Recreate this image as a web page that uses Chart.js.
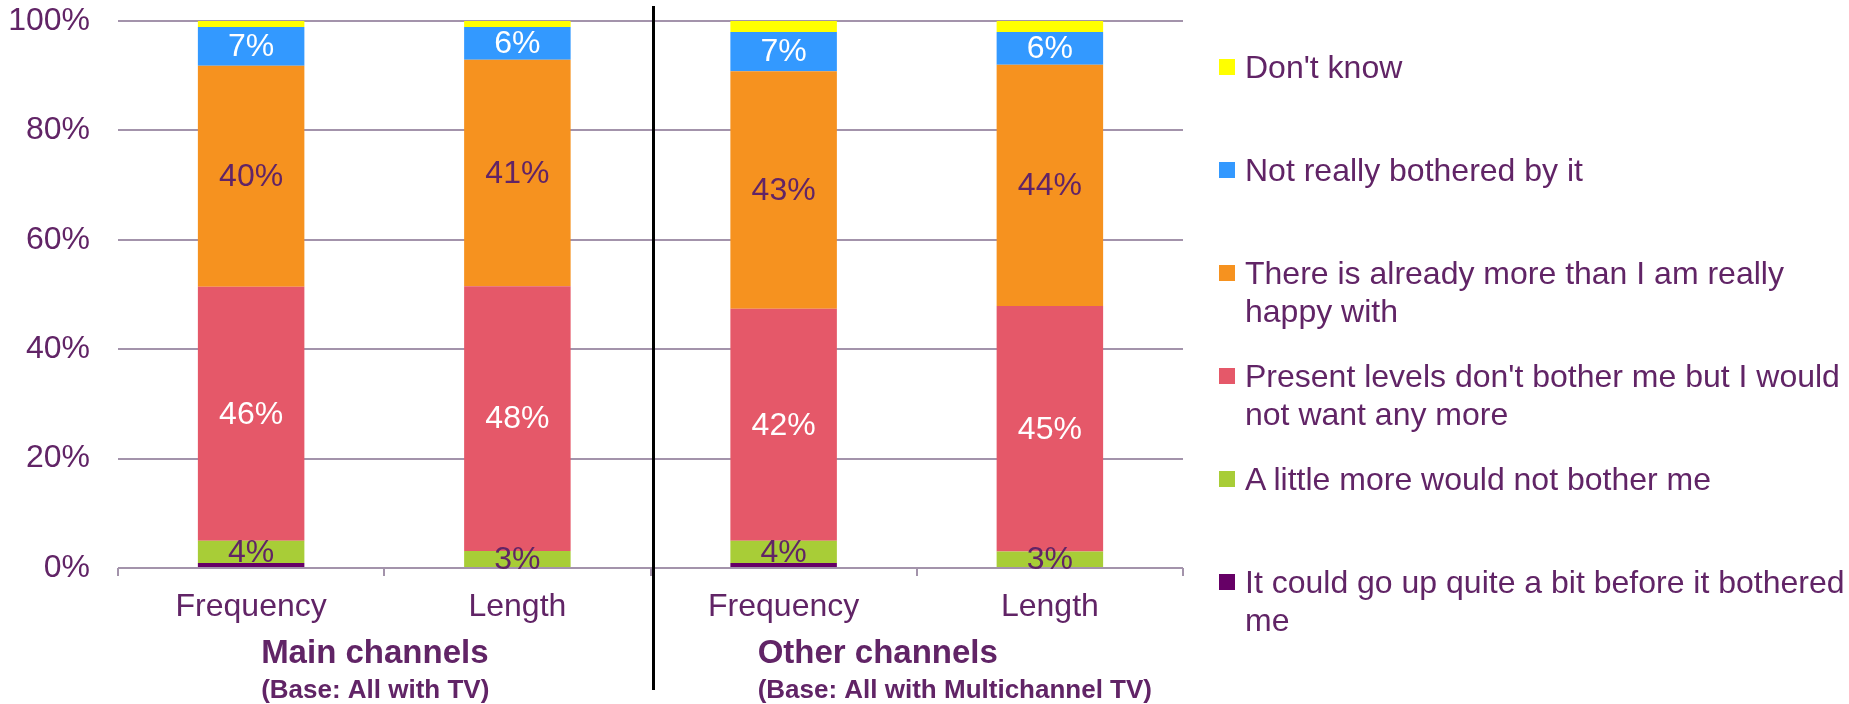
<!DOCTYPE html>
<html>
<head>
<meta charset="utf-8">
<script src="https://cdn.jsdelivr.net/npm/chart.js@4/dist/chart.umd.min.js"></script>
<style>
  body { margin: 0; background: #fff; }
  #wrap { position: relative; width: 1849px; height: 704px; }
  #legend { position: absolute; left: 1219px; top: 0; width: 630px; font-family: Arial, "Liberation Sans", sans-serif; font-size: 32px; color: #612466; }
  .item { position: absolute; left: 0; width: 626px; line-height: 38px; padding-left: 26px; box-sizing: border-box; }
  .box { position: absolute; left: 0; top: 11px; width: 16px; height: 16px; }
</style>
</head>
<body>
<div id="wrap">
  <canvas id="myChart" width="1849" height="704"></canvas>
  <div id="legend"></div>
</div>
<script>
var categories = ["Frequency", "Length", "Frequency", "Length"];
var groupNames = ["Main channels", "Other channels"];
var groupBases = ["(Base: All with TV)", "(Base: All with Multichannel TV)"];

// bottom of the stack first
var couldGoUp = [0.9, 0, 0.9, 0];
var littleMore = [4.1, 3.1, 4.1, 3.0];
var presentLevels = [46.4, 48.4, 42.4, 44.9];
var alreadyMore = [40.4, 41.4, 43.4, 44.1];
var notBothered = [7.1, 6.0, 7.2, 6.0];
var dontKnow = [1.1, 1.1, 2.0, 2.0];

var yTicks = [0, 20, 40, 60, 80, 100];

var purple = "#612466";
var gridColor = "#a393ab";

Chart.defaults.font.family = 'Arial, "Liberation Sans", sans-serif';

var datasets = [
    { label: "It could go up quite a bit before it bothered me", data: couldGoUp, backgroundColor: "#660066", labelColor: null },
    { label: "A little more would not bother me", data: littleMore, backgroundColor: "#a8cd37", labelColor: purple },
    { label: "Present levels don't bother me but I would not want any more", data: presentLevels, backgroundColor: "#e55869", labelColor: "#ffffff" },
    { label: "There is already more than I am really happy with", data: alreadyMore, backgroundColor: "#f6921f", labelColor: purple },
    { label: "Not really bothered by it", data: notBothered, backgroundColor: "#3399ff", labelColor: "#ffffff" },
    { label: "Don't know", data: dontKnow, backgroundColor: "#ffff00", labelColor: null }
];

// value labels inside the segments
var segmentLabels = {
    id: "segmentLabels",
    afterDatasetsDraw: function(chart) {
        var ctx = chart.ctx;
        ctx.save();
        ctx.font = '32px Arial, "Liberation Sans", sans-serif';
        ctx.textAlign = "center";
        ctx.textBaseline = "middle";
        chart.data.datasets.forEach(function(ds, i) {
            if (!ds.labelColor) return;
            chart.getDatasetMeta(i).data.forEach(function(bar, j) {
                if (!ds.data[j]) return;
                ctx.fillStyle = ds.labelColor;
                ctx.fillText(Math.round(ds.data[j]) + "%", bar.x, (bar.y + bar.base) / 2 + 1);
            });
        });
        ctx.restore();
    }
};

// group titles under the axis and the divider line
var groupTitles = {
    id: "groupTitles",
    afterDraw: function(chart) {
        var ctx = chart.ctx;
        var x = chart.scales.x;
        var half = (x.getPixelForValue(1) - x.getPixelForValue(0)) / 2;
        var offsets = [10, -26];
        ctx.save();
        ctx.fillStyle = purple;
        ctx.textAlign = "left";
        ctx.textBaseline = "alphabetic";
        groupNames.forEach(function(name, g) {
            var left = x.getPixelForValue(g * 2) + offsets[g];
            ctx.font = 'bold 33px Arial, "Liberation Sans", sans-serif';
            ctx.fillText(name, left, 663);
            ctx.font = 'bold 26px Arial, "Liberation Sans", sans-serif';
            ctx.fillText(groupBases[g], left, 698);
        });
        // divider between the two groups
        var divX = x.getPixelForValue(1) + half + 3;
        ctx.strokeStyle = "#000";
        ctx.lineWidth = 3;
        ctx.beginPath();
        ctx.moveTo(divX, 6);
        ctx.lineTo(divX, 690);
        ctx.stroke();
        ctx.restore();
    }
};

var ctx = document.getElementById("myChart").getContext("2d");
var myChart = new Chart(ctx, {
    type: "bar",
    data: { labels: categories, datasets: datasets },
    options: {
        responsive: false,
        animation: false,
        barPercentage: 0.4,
        categoryPercentage: 1.0,
        layout: { padding: { left: 0, right: 666, top: 21, bottom: 0 } },
        plugins: { legend: { display: false }, tooltip: { enabled: false } },
        scales: {
            x: {
                stacked: true,
                grid: { offset: true, drawOnChartArea: false, color: gridColor, lineWidth: 2, tickLength: 8 },
                border: { display: false },
                ticks: { color: purple, font: { size: 32 }, padding: 12 },
                afterFit: function(scale) { scale.height = 136; }
            },
            y: {
                stacked: true,
                min: 0,
                max: 100,
                afterBuildTicks: function(scale) { scale.ticks = yTicks.map(function(v) { return { value: v }; }); },
                grid: { color: gridColor, lineWidth: 2, drawTicks: false },
                border: { display: false },
                ticks: { color: purple, font: { size: 32 }, padding: 28, callback: function(v) { return v + "%"; } },
                afterFit: function(scale) {
                    scale.width = 118;
                    scale.paddingTop = 0;
                    scale.paddingBottom = 0;
                }
            }
        }
    },
    plugins: [segmentLabels, groupTitles]
});

// legend, top item is the top of the stack
var legend = document.getElementById("legend");
datasets.slice().reverse().forEach(function(ds, i) {
    var item = document.createElement("div");
    item.className = "item";
    item.style.top = (48 + i * 103) + "px";
    item.innerHTML = '<span class="box" style="background:' + ds.backgroundColor + '"></span>' + ds.label.replace(/&/g, "&amp;").replace(/</g, "&lt;");
    legend.appendChild(item);
});
</script>
</body>
</html>
